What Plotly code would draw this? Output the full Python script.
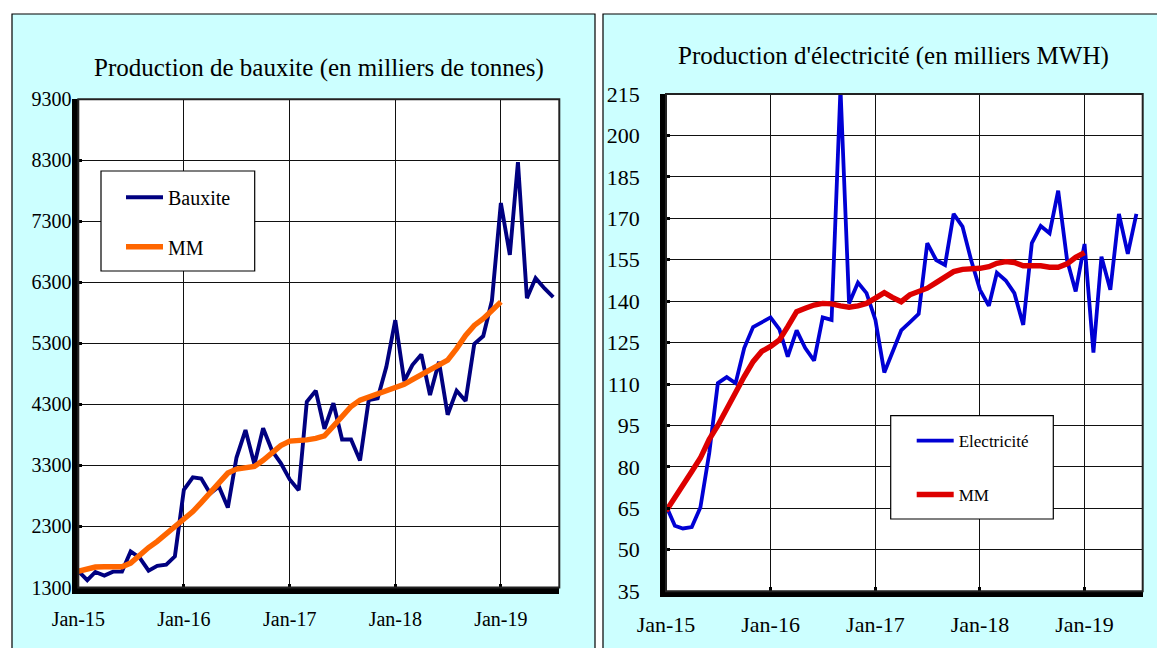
import plotly.graph_objects as go
import pandas as pd

# ---------------- data ----------------
months = pd.date_range("2015-01-01", periods=55, freq="MS")

bauxite = [1570, 1420, 1555, 1495, 1560, 1560, 1890, 1790, 1575, 1655, 1675, 1810,
           2900, 3105, 3085, 2840, 2955, 2610, 3430, 3880, 3320, 3910, 3540, 3340,
           3070, 2895, 4345, 4525, 3900, 4320, 3725, 3725, 3380, 4370, 4400, 4915,
           5680, 4680, 4945, 5120, 4455, 5000, 4130, 4525, 4355, 5290, 5420, 6000,
           7600, 6750, 8270, 6040, 6370, 6200, 6060]

mm_bauxite = [1565, 1600, 1635, 1640, 1640, 1640, 1700, 1835, 1955, 2055, 2180, 2300,
              2400, 2545, 2690, 2850, 3025, 3175, 3240, 3270, 3285, 3385, 3510, 3625,
              3700, 3705, 3720, 3745, 3785, 3945, 4100, 4265, 4370, 4425, 4465, 4535,
              4575, 4630, 4705, 4790, 4860, 4940, 5025, 5215, 5430, 5595, 5705, 5840, 5980]

electricite = [66, 58.7, 57.7, 58.2, 65.3, 85, 110.3, 112.5, 110.3, 123, 130.6, 132.4,
               134.1, 129.8, 119.9, 129.4, 123, 118.5, 134.1, 133.2, 217, 139.2, 146.7, 142.9,
               133.2, 114.2, 121.8, 129.4, 132.3, 135.4, 161, 154.9, 153.1, 171.6, 167, 154.9,
               144.1, 138.3, 150.3, 147.5, 142.9, 131.4, 161, 167.2, 164.6, 180, 154.9, 143.5,
               160.7, 121.4, 156.1, 144.1, 171.6, 157.1, 171.6]

mm_electricite = [64, 68.7, 73.5, 78.3, 83.2, 90, 95, 101, 107.5, 112.7, 118.1, 121.8,
                  123.6, 126, 130.8, 136.2, 137.4, 138.6, 139.2, 139, 138.3, 137.8, 138.3, 139.2,
                  141.1, 143.1, 141.4, 139.8, 142.3, 143.5, 144.7, 146.7, 148.7, 150.7, 151.5, 151.5,
                  151.9, 152.5, 153.7, 154.3, 154, 152.8, 152.8, 152.8, 152.3, 152.3, 153.5, 155.9, 157.6]

year_ticks = ["2015-01-01", "2016-01-01", "2017-01-01", "2018-01-01", "2019-01-01"]
year_labels = ["Jan-15", "Jan-16", "Jan-17", "Jan-18", "Jan-19"]
bauxite_ticks = [1300, 2300, 3300, 4300, 5300, 6300, 7300, 8300, 9300]
elec_ticks = [35, 50, 65, 80, 95, 110, 125, 140, 155, 170, 185, 200, 215]

title_left = "Production de bauxite (en milliers de tonnes)"
title_right = "Production d'électricité (en milliers MWH)"

# ---------------- layout helpers ----------------
W, H = 1165, 648
OFF = 8  # page body margin: screen px = figure px + OFF
FONT = "Liberation Serif"


def fx(x):
    return (x - OFF) / W


def fy(y):
    return 1 - (y - OFF) / H


fig = go.Figure()

fig.add_trace(go.Scatter(x=months, y=bauxite, name="Bauxite", mode="lines",
                         line=dict(color="#000080", width=3.9), xaxis="x", yaxis="y",
                         legend="legend"))
fig.add_trace(go.Scatter(x=months[:len(mm_bauxite)], y=mm_bauxite, name="MM", mode="lines",
                         line=dict(color="#FF6600", width=5.4), xaxis="x", yaxis="y",
                         legend="legend2"))
fig.add_trace(go.Scatter(x=months, y=electricite, name="Electricité", mode="lines",
                         line=dict(color="#0000D4", width=3.8), xaxis="x2", yaxis="y2",
                         legend="legend3"))
fig.add_trace(go.Scatter(x=months[:len(mm_electricite)], y=mm_electricite, name="MM", mode="lines",
                         line=dict(color="#DD0000", width=5.4), xaxis="x2", yaxis="y2",
                         legend="legend4"))

# plot-area boxes (screen px)
L = dict(x0=78.3, x1=559.3, y0=99.3, y1=587.5)
R = dict(x0=666.0, x1=1142.7, y0=94.0, y1=591.2)

grid = dict(showgrid=True, gridcolor="#111111", gridwidth=1.3, zeroline=False,
            showline=True, linecolor="black", linewidth=5.5, automargin=False,
            ticks="inside", ticklen=4, tickwidth=3, tickcolor="black")

xcommon = dict(type="date", tickvals=year_ticks, ticktext=year_labels, **grid)

fig.update_layout(
    template="none",
    width=W, height=H,
    margin=dict(l=0, r=0, t=0, b=0, pad=0, autoexpand=False),
    paper_bgcolor="white", plot_bgcolor="rgba(0,0,0,0)",
    xaxis=dict(domain=[fx(L["x0"]), fx(L["x1"])], range=["2015-01-01", "2019-07-22"],
               anchor="y", ticklabelstandoff=9,
               tickfont=dict(family=FONT, size=20, color="black"), **xcommon),
    yaxis=dict(domain=[fy(L["y1"]), fy(L["y0"])], range=[1300, 9300], tickvals=bauxite_ticks,
               anchor="x", ticklabelstandoff=-3,
               tickfont=dict(family=FONT, size=20, color="black"), **grid),
    xaxis2=dict(domain=[fx(R["x0"]), fx(R["x1"])], range=["2015-01-01", "2019-07-23"],
                anchor="y2", ticklabelstandoff=9,
                tickfont=dict(family=FONT, size=22, color="black"), **xcommon),
    yaxis2=dict(domain=[fy(R["y1"]), fy(R["y0"])], range=[35, 215], tickvals=elec_ticks,
                anchor="x2", ticklabelstandoff=16,
                tickfont=dict(family=FONT, size=22, color="black"), **grid),
    showlegend=True,
)

leg_common = dict(xanchor="left", yanchor="middle", bgcolor="rgba(0,0,0,0)", borderwidth=0,
                  itemwidth=37)
fig.update_layout(
    legend=dict(x=fx(121), y=fy(197.3), font=dict(family=FONT, size=20, color="black"), **leg_common),
    legend2=dict(x=fx(121), y=fy(246.7), font=dict(family=FONT, size=20, color="black"), **leg_common),
    legend3=dict(x=fx(911.7), y=fy(441), font=dict(family=FONT, size=17, color="black"), **leg_common),
    legend4=dict(x=fx(911.7), y=fy(495), font=dict(family=FONT, size=17, color="black"), **leg_common),
)

shapes = []
# cyan panels
for (x0, x1) in [(12, 595), (603, 1190)]:
    shapes.append(dict(type="rect", xref="paper", yref="paper", layer="below",
                       x0=fx(x0), x1=fx(x1), y0=fy(14), y1=fy(680),
                       fillcolor="#CCFFFF", line=dict(color="black", width=1.2)))
# white plot areas
for b in (L, R):
    shapes.append(dict(type="rect", xref="paper", yref="paper", layer="below",
                       x0=fx(b["x0"]), x1=fx(b["x1"]), y0=fy(b["y1"]), y1=fy(b["y0"]),
                       fillcolor="white", line=dict(width=0)))
# thin plot borders (top / right)
for b in (L, R):
    shapes.append(dict(type="rect", xref="paper", yref="paper", layer="above",
                       x0=fx(b["x0"]), x1=fx(b["x1"]), y0=fy(b["y1"]), y1=fy(b["y0"]),
                       fillcolor="rgba(0,0,0,0)", line=dict(color="#222222", width=2)))
# legend boxes
for (x0, y0, x1, y1) in [(101, 171, 254.7, 271), (890.7, 415.7, 1053.3, 519)]:
    shapes.append(dict(type="rect", xref="paper", yref="paper", layer="above",
                       x0=fx(x0), x1=fx(x1), y0=fy(y1), y1=fy(y0),
                       fillcolor="white", line=dict(color="black", width=1.2)))
fig.update_layout(shapes=shapes)

fig.add_annotation(text=title_left, xref="paper", yref="paper", x=fx(319), y=fy(68),
                   xanchor="center", yanchor="middle", showarrow=False,
                   font=dict(family=FONT, size=25, color="black"))
fig.add_annotation(text=title_right, xref="paper", yref="paper", x=fx(893), y=fy(56),
                   xanchor="center", yanchor="middle", showarrow=False,
                   font=dict(family=FONT, size=25, color="black"))

fig.write_html("out.html")
